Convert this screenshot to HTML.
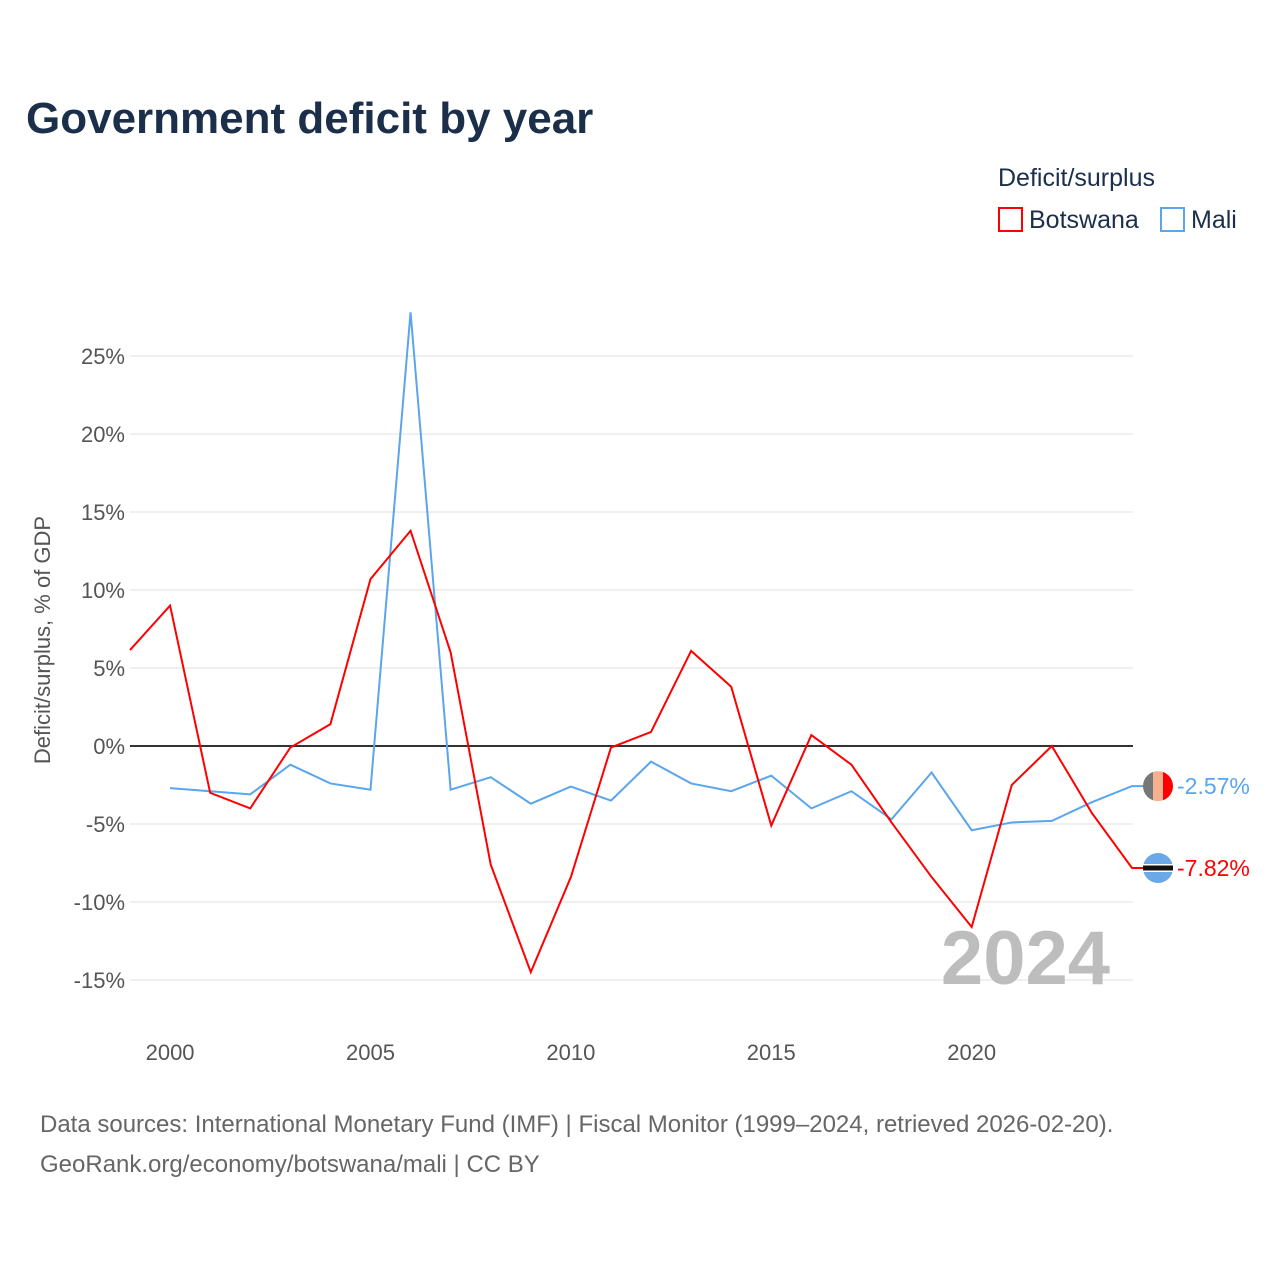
<!DOCTYPE html>
<html><head><meta charset="utf-8"><style>
body{margin:0;background:#fff;font-family:"Liberation Sans",sans-serif}
</style></head><body>
<svg width="1280" height="1280" xmlns="http://www.w3.org/2000/svg" id="chart">
<rect width="1280" height="1280" fill="#fff"/>
<text x="26" y="133" font-size="44" font-weight="bold" fill="#1b2f4b">Government deficit by year</text>
<text x="998" y="186" font-size="25" fill="#1b2f4b">Deficit/surplus</text>
<g><rect x="999" y="208" width="23" height="23" fill="none" stroke="#ff0000" stroke-width="2"/><text x="1029" y="228" font-size="25" fill="#1b2f4b">Botswana</text></g>
<g><rect x="1161" y="208" width="23" height="23" fill="none" stroke="#5aa5ec" stroke-width="2"/><text x="1191" y="228" font-size="25" fill="#1b2f4b">Mali</text></g>
<text transform="translate(50,640) rotate(-90)" text-anchor="middle" font-size="22" fill="#555">Deficit/surplus, % of GDP</text>
<g id="grid"></g><g id="yticks"></g><g id="xticks"></g>
<text x="1110" y="984" text-anchor="end" font-size="76" font-weight="bold" fill="#bdbdbd">2024</text>
<g id="series"></g>
<text x="40" y="1132" font-size="24" fill="#666">Data sources: International Monetary Fund (IMF) | Fiscal Monitor (1999–2024, retrieved 2026-02-20).</text>
<text x="40" y="1172" font-size="24" fill="#666">GeoRank.org/economy/botswana/mali | CC BY</text>
</svg>
<script>
const years=[1999,2000,2001,2002,2003,2004,2005,2006,2007,2008,2009,2010,2011,2012,2013,2014,2015,2016,2017,2018,2019,2020,2021,2022,2023,2024];
const botswana=[6.15,9.0,-3.0,-4.0,-0.1,1.4,10.7,13.8,6.0,-7.6,-14.5,-8.4,-0.1,0.9,6.1,3.8,-5.1,0.7,-1.2,-4.9,-8.4,-11.6,-2.5,0,-4.3,-7.82];
const mali=[null,-2.7,-2.9,-3.1,-1.2,-2.4,-2.8,27.8,-2.8,-2.0,-3.7,-2.6,-3.5,-1.0,-2.4,-2.9,-1.9,-4.0,-2.9,-4.7,-1.7,-5.4,-4.9,-4.8,-3.6,-2.57];
const yTicks=[-15,-10,-5,0,5,10,15,20,25];
const xTicks=[2000,2005,2010,2015,2020];
const NS="http://www.w3.org/2000/svg";
const X=v=>130+(v-1999)*40.08;
const Y=v=>746-v*15.6;
function mk(t,a,p){const e=document.createElementNS(NS,t);for(const k in a)e.setAttribute(k,a[k]);p.appendChild(e);return e;}
const grid=document.getElementById('grid'),yt=document.getElementById('yticks'),xt=document.getElementById('xticks'),sr=document.getElementById('series');
yTicks.forEach(v=>{
 const l=mk('line',{x1:130,x2:1133,y1:Y(v),y2:Y(v),stroke:v===0?'#333':'#e8e8e8','stroke-width':v===0?2:1.2},grid);
 
 
 const t=mk('text',{x:125,y:Y(v)+8,'text-anchor':'end','font-size':22,fill:'#555'},yt);
 t.textContent=v+'%';
 
 
});
xTicks.forEach(v=>{
 const t=mk('text',{x:X(v),y:1060,'text-anchor':'middle','font-size':22,fill:'#555'},xt);
 t.textContent=v;
 
 
});
function line(vals,color,name){
 let d='';let last=null;
 vals.forEach((v,i)=>{if(v===null)return;d+=(d?'L':'M')+X(years[i])+','+Y(v);last=v;});
 d+='L1145,'+Y(last);
 const p=mk('path',{d:d,fill:'none',stroke:color,'stroke-width':2},sr);
 
 
 return last;
}
const mb=line(mali,'#5aa5ec','mali-line');
const bb=line(botswana,'#ff0000','botswana-line');
// Mali flag
const gm=mk('g',{},sr);


const cy1=Y(mb);
mk('clipPath',{id:'c1'},gm).appendChild(Object.assign(document.createElementNS(NS,'circle'),{}));
gm.querySelector('clipPath circle').setAttribute('cx',1158);gm.querySelector('clipPath circle').setAttribute('cy',cy1);gm.querySelector('clipPath circle').setAttribute('r',15);
const gg=mk('g',{'clip-path':'url(#c1)'},gm);
mk('rect',{x:1143,y:cy1-15,width:10,height:30,fill:'#777'},gg);
mk('rect',{x:1153,y:cy1-15,width:10,height:30,fill:'#f5b090'},gg);
mk('rect',{x:1163,y:cy1-15,width:10,height:30,fill:'#ff0000'},gg);
const t1=mk('text',{x:1177,y:cy1+8,'font-size':23,fill:'#5aa5ec'},sr);t1.textContent=mb.toFixed(2)+'%';


// Botswana flag
const gb=mk('g',{},sr);


const cy2=Y(bb);
mk('circle',{cx:1158,cy:cy2,r:15,fill:'#6aa8e8'},gb);
mk('rect',{x:1143,y:cy2-4,width:30,height:8,fill:'#fff'},gb);
mk('rect',{x:1143,y:cy2-2.5,width:30,height:5,fill:'#111'},gb);
const t2=mk('text',{x:1177,y:cy2+8,'font-size':23,fill:'#ff0000'},sr);t2.textContent=bb.toFixed(2)+'%';


</script>
</body></html>
